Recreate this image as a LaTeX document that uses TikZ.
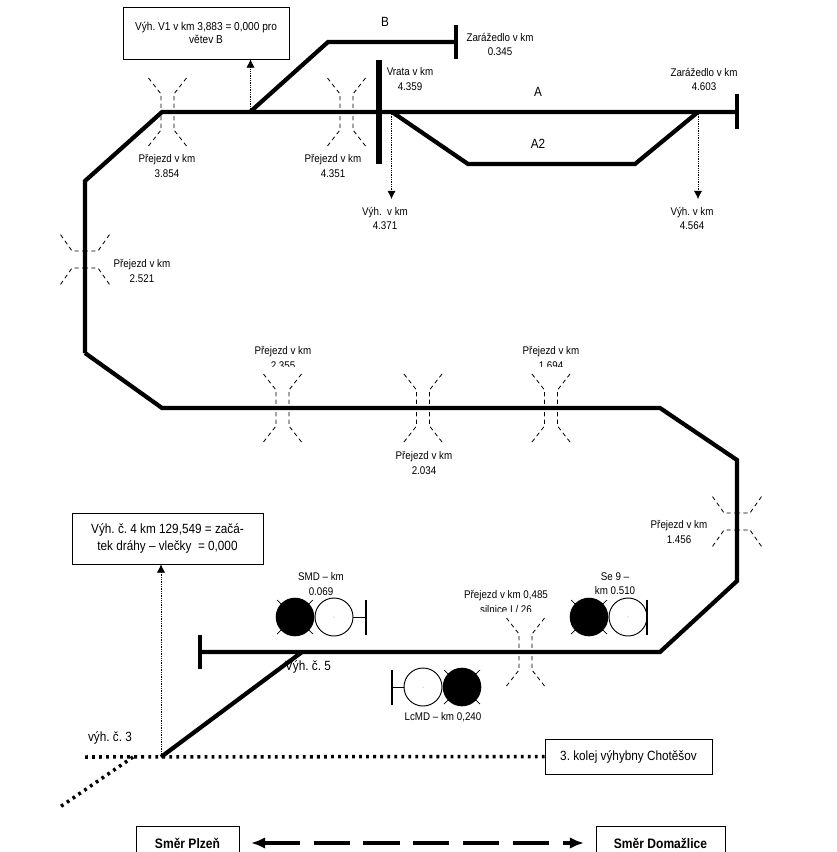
\documentclass[tikz,border=0pt]{standalone}
\usepackage{fontspec}
\setmainfont[FakeStretch=0.88]{Liberation Sans}
\frenchspacing
\usetikzlibrary{arrows.meta}

\tikzset{
    kolej/.style={line width=3.6pt},
    vlecka/.style={line width=3pt, dash pattern=on 2.4pt off 3.6pt},
    odkaz/.style={densely dotted, line width=0.5pt, -{Latex[length=7pt,width=7pt]}},
    prejezdcara/.style={line width=0.7pt, dash pattern=on 3.6pt off 2.8pt},
    popis/.style={align=center, inner sep=0pt, font=\fontsize{9.5}{12}\selectfont},
    popisvetsi/.style={align=center, inner sep=0pt, font=\fontsize{11.4}{14.5}\selectfont},
    ramec/.style={draw, line width=0.7pt, fill=white, align=center, inner sep=0pt},
    prejezd/.pic={
        \foreach \sx in {-1,1} \foreach \sy in {-1,1} {
            \draw[prejezdcara] (\sx*19,\sy*34) -- (\sx*6.5,\sy*18) -- (\sx*6.5,0);
        }
    },
    navest/.pic={
        \draw[line width=0.6pt] (-18,-17) -- (18,17) (-18,17) -- (18,-17);
        \fill (0,0) circle (19.3);
        \draw[line width=0.8pt, fill=white] (39,0) circle (19);
        \fill[gray] (39,0) circle (0.5);
        \draw[line width=0.8pt] (58,0) -- (#1,0);
        \draw[line width=1pt] (#1,-17.5) -- (#1,17.5);
    },
}

\begin{document}
\begin{tikzpicture}[x=0.03cm,y=-0.03cm]
    \useasboundingbox (0,0) rectangle (836,852);

    \foreach \n/\x/\y/\t in {
        pr3854/167/166/{Přejezd v km\\3.854},
        pr4351/333/166/{Přejezd v km\\4.351},
        pr2521/142/271/{Přejezd v km\\2.521},
        pr2355/283/358/{Přejezd v km\\2.355},
        pr1694/551/358/{Přejezd v km\\1.694},
        pr2034/424/463/{Přejezd v km\\2.034},
        pr1456/679/532/{Přejezd v km\\1.456},
        pr0485/506/602/{Přejezd v km 0,485\\silnice I / 26},
        zar0345/500/44/{Zarážedlo v km\\0.345},
        zar4603/704/79/{Zarážedlo v km\\4.603},
        vrata/410/79/{Vrata v km\\4.359},
        vyh4371/385/218/{Výh.\ \ v km\\4.371},
        vyh4564/692/218/{Výh. v km\\4.564},
        smd/321/584/{SMD – km\\0.069},
        se9/615/584/{Se 9 –\\km 0.510},
        lcmd/443/717/{LcMD – km 0,240}} {
        \node[popis] (\n) at (\x,\y) {\t};
    }
    % spodek popisku je v predloze oriznuty
    \fill[white] (115,283) rectangle (170,292);
    \fill[white] (255,367) rectangle (310,376);
    \fill[white] (523,367) rectangle (580,376);
    \fill[white] (470,612) rectangle (545,620);

    \node[popisvetsi] (vetevB) at (385,22) {B};
    \node[popisvetsi] (vetevA) at (538,92) {A};
    \node[popisvetsi] (vetevA2) at (538,144) {A2};
    \node[popisvetsi] (vyh5) at (308,667) {Výh. č. 5};
    \node[popisvetsi] (vyh3) at (110,738) {výh. č. 3};

    \foreach \x/\y in {167.5/112, 346.5/112, 282.5/408, 423/408, 551/408, 525.5/652} {
        \pic at (\x,\y) {prejezd};
    }
    \pic[rotate=90,xscale=1.31,yscale=0.72] at (85,259.5) {prejezd};
    \pic[rotate=90,xscale=1.31,yscale=0.72] at (737,521.5) {prejezd};

    \draw[kolej] (85,353) -- (85,181) -- (162,112) -- (737,112);
    \draw[kolej] (85,353) -- (162,408) -- (660,408) -- (737,460) -- (737,581) -- (660,652) -- (200,652);
    \draw[kolej] (250,112) -- (328,42) -- (456,42);
    \draw[kolej] (392,112) -- (468,164) -- (635,164) -- (698,112);
    \draw[kolej] (161,757) -- (302,652);
    \draw[kolej] (737,94) -- (737,129);
    \draw[kolej] (456,25) -- (456,59);
    \draw[kolej] (200,635) -- (200,669);
    \draw[line width=5.5pt] (379,60) -- (379,164);

    \node[ramec, font=\fontsize{9.8}{11.5}\selectfont, minimum width=4.98cm, minimum height=1.56cm] (boxV1) at (206,33) {Výh. V1 v km 3,883 = 0,000 pro\\větev B};
    \node[ramec, font=\fontsize{11.4}{14.5}\selectfont, minimum width=5.73cm, minimum height=1.53cm] (boxV4) at (167.5,538.5) {Výh. č. 4 km 129,549 = začá-\\tek dráhy – vlečky\ \ = 0,000};
    \node[ramec, font=\fontsize{11.4}{12}\selectfont, minimum width=5.01cm, minimum height=1.05cm] (boxKolej) at (628.5,756.5) {3. kolej výhybny Chotěšov};
    \node[ramec, font=\fontsize{11.7}{12}\selectfont\bfseries, minimum width=3.09cm, minimum height=1.02cm] (plzen) at (187.5,843) {Směr Plzeň};
    \node[ramec, font=\fontsize{11.7}{12}\selectfont\bfseries, minimum width=3.87cm, minimum height=1.02cm] (domazlice) at (660.5,843) {Směr Domažlice};

    \coordinate (K1) at (85,757);
    \coordinate (K2) at (133,757);
    \coordinate (K3) at (60,807);
    \draw[vlecka] (K1) -- (boxKolej.west);
    \draw[vlecka] (K2) -- (K3);

    \coordinate (V1) at (250.5,112);
    \coordinate (V4371) at (391.5,112);
    \coordinate (V4371k) at (391.5,199);
    \coordinate (V4564) at (698,112);
    \coordinate (V4564k) at (698,199);
    \coordinate (V4) at (161,757);
    \draw[odkaz] (V1) -- (V1 |- boxV1.south);
    \draw[odkaz] (V4371) -- (V4371k);
    \draw[odkaz] (V4564) -- (V4564k);
    \draw[odkaz] (V4) -- (V4 |- boxV4.south);

    \draw[line width=3.2pt, dash pattern=on 31pt off 11.5pt, {Latex[length=12pt,width=10pt]}-{Latex[length=12pt,width=10pt]}, shorten <=10pt, shorten >=10pt] (plzen) -- (domazlice);

    \pic at (295,617) {navest=71};
    \pic at (589,617) {navest=58};
    \pic[xscale=-1] at (462,687) {navest=70};
\end{tikzpicture}
\end{document}
